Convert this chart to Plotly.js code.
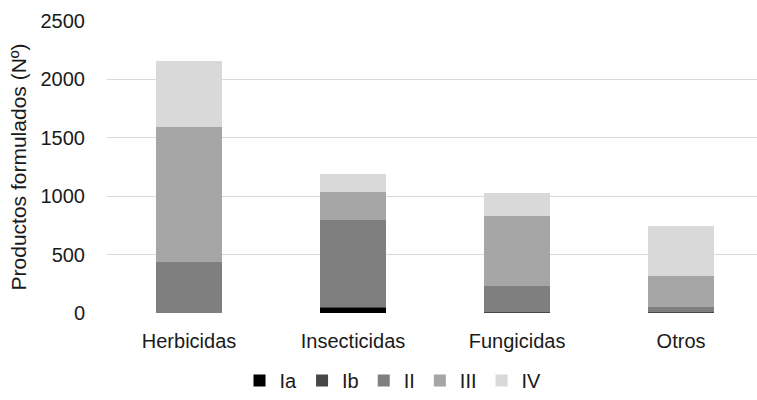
<!DOCTYPE html>
<html>
<head>
<meta charset="utf-8">
<script src="https://cdn.plot.ly/plotly-3.0.1.min.js"></script>
<style>html,body{margin:0;padding:0;background:#fff;}#chart{width:757px;height:400px;}</style>
</head>
<body>
<div id="chart"></div>
<script>
const categories = ["Herbicidas", "Insecticidas", "Fungicidas", "Otros"];
const seriesNames = ["Ia", "Ib", "II", "III", "IV"];
const valIa  = [0, 40, 0, 0];
const valIb  = [0, 15, 5, 5];
const valII  = [434, 745, 225, 45];
const valIII = [1156, 237, 603, 265];
const valIV  = [570, 153, 197, 433];
const yTicks = [0, 500, 1000, 1500, 2000, 2500];

const seriesValues = [valIa, valIb, valII, valIII, valIV];
const colors = ["#000000", "#474747", "#7f7f7f", "#a6a6a6", "#d9d9d9"];

const traces = seriesNames.map((name, i) => ({
  type: "bar",
  name: name,
  x: categories,
  y: seriesValues[i],
  width: 0.4,
  marker: {color: colors[i], line: {width: 0}},
  hoverinfo: "x+y+name"
}));

const layout = {
  width: 757,
  height: 400,
  margin: {l: 107, r: 0, t: 21, b: 85},
  paper_bgcolor: "#ffffff",
  plot_bgcolor: "#ffffff",
  barmode: "stack",
  font: {family: "Liberation Sans, Arial, sans-serif", color: "#1a1a1a", size: 20},
  xaxis: {
    type: "category",
    range: [-0.5, 3.463],
    showgrid: false,
    zeroline: false,
    showline: false,
    ticks: "",
    ticklabelstandoff: 14,
    tickfont: {size: 20, color: "#1a1a1a"}
  },
  yaxis: {
    range: [0, 2500],
    tickvals: yTicks,
    ticktext: yTicks.map(String),
    showgrid: true,
    gridcolor: "#d9d9d9",
    gridwidth: 1,
    zeroline: false,
    showline: false,
    ticks: "",
    ticklabelstandoff: 21,
    tickfont: {size: 20, color: "#1a1a1a"},
    title: {text: "Productos formulados (Nº)", font: {size: 21, color: "#1a1a1a"}, standoff: 8}
  },
  showlegend: true,
  legend: {
    orientation: "h",
    x: 0.44,
    xanchor: "center",
    y: -0.231,
    yanchor: "middle",
    font: {size: 20, color: "#1a1a1a"},
    traceorder: "normal",
    itemclick: false
  }
};

Plotly.newPlot("chart", traces, layout, {displayModeBar: false, staticPlot: true});
</script>
</body>
</html>
